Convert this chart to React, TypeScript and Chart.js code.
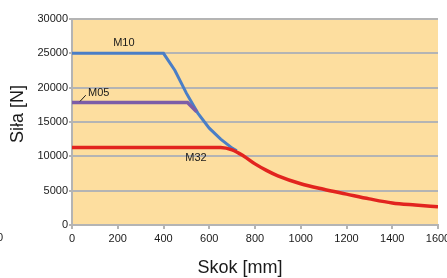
import React, { useEffect, useRef } from "react";
import { Chart, registerables } from "chart.js";

Chart.register(...registerables);

const m10X = [0, 400, 450, 500, 550, 600, 650, 700, 720];
const m10Y = [25000, 25000, 22500, 19200, 16300, 14100, 12500, 11200, 10800];
const m05X = [0, 505, 545];
const m05Y = [17850, 17850, 16500];
const m32X = [0, 650, 700, 750, 800, 850, 900, 1000, 1100, 1200, 1300, 1400, 1500, 1600];
const m32Y = [11300, 11300, 10950, 10050, 8900, 7950, 7150, 6000, 5200, 4500, 3800, 3200, 2900, 2650];
const xTicks = [0, 200, 400, 600, 800, 1000, 1200, 1400, 1600];
const yTicks = [0, 5000, 10000, 15000, 20000, 25000, 30000];
const xTitle = "Skok [mm]";
const yTitle = "Siła [N]";

const FONT = "'Liberation Sans', Arial, sans-serif";

const pts = (xs: number[], ys: number[]) => xs.map((x, i) => ({ x, y: ys[i] }));

const decor = {
  id: "decor",
  beforeDraw(chart: any) {
    const { ctx, chartArea: a } = chart;
    ctx.save();
    ctx.fillStyle = "#fdde9f";
    ctx.fillRect(a.left, a.top, a.right - a.left, a.bottom - a.top);
    ctx.restore();
  },
  afterDraw(chart: any) {
    const { ctx } = chart;
    const xs = chart.scales.x;
    const ys = chart.scales.y;
    ctx.save();
    ctx.fillStyle = "#1a1a1a";
    ctx.textBaseline = "middle";
    ctx.textAlign = "center";
    ctx.font = `18px ${FONT}`;
    ctx.fillText(xTitle, 240, 268);
    ctx.save();
    ctx.translate(18, 114);
    ctx.rotate(-Math.PI / 2);
    ctx.fillText(yTitle, 0, 0);
    ctx.restore();
    ctx.font = `11px ${FONT}`;
    ctx.textAlign = "left";
    ctx.fillText("M10", xs.getPixelForValue(180), ys.getPixelForValue(26450));
    ctx.fillText("M05", xs.getPixelForValue(70), ys.getPixelForValue(19250));
    ctx.fillText("M32", xs.getPixelForValue(495), ys.getPixelForValue(9750));
    ctx.fillText("0", -3, 238);
    ctx.strokeStyle = "#1a1a1a";
    ctx.lineWidth = 1;
    ctx.beginPath();
    ctx.moveTo(xs.getPixelForValue(35), ys.getPixelForValue(18000));
    ctx.lineTo(xs.getPixelForValue(60), ys.getPixelForValue(18900));
    ctx.stroke();
    ctx.restore();
  },
};

export default function App() {
  const ref = useRef<HTMLCanvasElement | null>(null);
  useEffect(() => {
    document.body.style.margin = "0";
    const chart = new Chart(ref.current as HTMLCanvasElement, {
      type: "line",
      data: {
        datasets: [
          {
            label: "M32",
            data: pts(m32X, m32Y),
            borderColor: "#e2241f",
            borderWidth: 3.5,
            pointRadius: 0,
            cubicInterpolationMode: "monotone",
            order: 0,
          },
          {
            label: "M05",
            data: pts(m05X, m05Y),
            borderColor: "#7c5da8",
            borderWidth: 3.5,
            pointRadius: 0,
            tension: 0,
            order: 1,
          },
          {
            label: "M10",
            data: pts(m10X, m10Y),
            borderColor: "#4a7ec6",
            borderWidth: 3,
            pointRadius: 0,
            tension: 0,
            order: 2,
          },
        ],
      },
      options: {
        responsive: false,
        animation: false,
        devicePixelRatio: 1,
        layout: { padding: { top: 19, right: 9, left: 0, bottom: 0 } },
        plugins: { legend: { display: false }, tooltip: { enabled: false } },
        scales: {
          x: {
            type: "linear",
            min: 0,
            max: 1600,
            afterBuildTicks: (s: any) => {
              s.ticks = xTicks.map((v) => ({ value: v }));
            },
            afterFit: (s: any) => {
              s.height = 53;
              s.paddingLeft = 0;
              s.paddingRight = 0;
            },
            ticks: {
              maxRotation: 0,
              autoSkip: false,
              padding: 3,
              color: "#1a1a1a",
              font: { family: FONT, size: 11 },
              callback: (v: any) => String(v),
            },
            grid: {
              drawOnChartArea: false,
              drawTicks: true,
              tickLength: 4,
              color: "#b4b4b4",
              lineWidth: 2,
            },
            border: { display: true, color: "#b4b4b4", width: 2 },
          },
          y: {
            type: "linear",
            min: 0,
            max: 30000,
            afterBuildTicks: (s: any) => {
              s.ticks = yTicks.map((v) => ({ value: v }));
            },
            afterFit: (s: any) => {
              s.width = 72;
            },
            ticks: {
              padding: 1,
              color: "#1a1a1a",
              font: { family: FONT, size: 11 },
              callback: (v: any) => String(v),
            },
            grid: {
              drawTicks: true,
              tickLength: 3,
              color: "#b4b4b4",
              lineWidth: 2,
            },
            border: { display: true, color: "#b4b4b4", width: 2 },
          },
        },
      },
      plugins: [decor],
    } as any);
    return () => chart.destroy();
  }, []);
  return (
    <div style={{ position: "absolute", left: 0, top: 0, width: 447, height: 278 }}>
      <canvas ref={ref} width={447} height={278} />
    </div>
  );
}
